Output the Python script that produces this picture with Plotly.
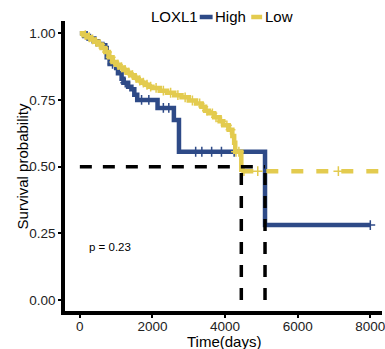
import numpy as np
import plotly.graph_objects as go

# ---- data ----
high_time = [0, 120, 250, 380, 500, 620, 700, 740, 820, 1000, 1050, 1150, 1200, 1330,
             1420, 1500, 1580, 2140, 2590, 2730, 5100, 8000]
high_surv = [1.0, 0.99, 0.98, 0.97, 0.96, 0.955, 0.945, 0.91, 0.885, 0.87, 0.85, 0.83,
             0.815, 0.80, 0.79, 0.77, 0.75, 0.72, 0.675, 0.556, 0.281, 0.281]
high_censor = [200, 450, 900, 1250, 1700, 1900, 2300, 2450, 3190, 3360, 3630, 3900, 4250, 8000]

low_time = [0, 100, 200, 300, 400, 500, 600, 700, 800, 900, 1000, 1100, 1200, 1300, 1400,
            1500, 1600, 1700, 1800, 1900, 2000, 2200, 2400, 2600, 2800, 3000, 3200, 3350,
            3450, 3550, 3700, 3850, 3950, 4100, 4200, 4250, 4280, 4447, 8700]
low_surv = [1.0, 0.993, 0.985, 0.977, 0.968, 0.958, 0.945, 0.93, 0.91, 0.892, 0.882, 0.872,
            0.862, 0.852, 0.843, 0.833, 0.823, 0.815, 0.807, 0.80, 0.795, 0.785, 0.777,
            0.768, 0.76, 0.748, 0.737, 0.725, 0.71, 0.70, 0.685, 0.67, 0.655, 0.638, 0.615,
            0.59, 0.556, 0.483, 0.483]
low_censor = [150, 260, 350, 450, 560, 650, 750, 850, 950, 1050, 1150, 1250, 1350, 1450,
              1550, 1650, 1750, 1850, 1950, 2100, 2300, 2500, 2700, 2900, 3100, 3300, 3400,
              3500, 3650, 3750, 3900, 4050, 4150, 4300, 4380, 4520, 4900, 7120]

group_title = "LOXL1"
group_names = ["High", "Low"]
p_text = "p = 0.23"
x_title = "Time(days)"
y_title = "Survival probability"

x_ticks = [0, 2000, 4000, 6000, 8000]
y_ticks = [0.0, 0.25, 0.5, 0.75, 1.0]

BLUE = "#2E4A87"
YELLOW = "#E3CB4F"
FONT = "Liberation Sans, Arial, sans-serif"


def step_at(times, surv, t):
    times = np.asarray(times)
    surv = np.asarray(surv)
    idx = np.searchsorted(times, t, side="right") - 1
    return surv[idx]


def median_time(times, surv):
    for t, s in zip(times, surv):
        if s <= 0.5:
            return t
    return None


fig = go.Figure()

# High curve
fig.add_trace(go.Scatter(x=high_time, y=high_surv, mode="lines", line_shape="hv",
                         line=dict(color=BLUE, width=4.5), showlegend=False))
fig.add_trace(go.Scatter(x=high_censor, y=step_at(high_time, high_surv, high_censor),
                         mode="markers",
                         marker=dict(symbol="cross-thin", size=7,
                                     line=dict(color=BLUE, width=1.5)),
                         showlegend=False))

# Low curve: solid while events occur, dashed tail
low_med = median_time(low_time, low_surv)
k = low_time.index(low_med)
fig.add_trace(go.Scatter(x=low_time[:k + 1], y=low_surv[:k + 1], mode="lines",
                         line_shape="hv", line=dict(color=YELLOW, width=4.5),
                         showlegend=False))
fig.add_trace(go.Scatter(x=low_time[k:], y=low_surv[k:], mode="lines",
                         line=dict(color=YELLOW, width=4.5, dash="12px,13px"),
                         showlegend=False))
fig.add_trace(go.Scatter(x=low_censor, y=step_at(low_time, low_surv, low_censor),
                         mode="markers",
                         marker=dict(symbol="cross-thin", size=7,
                                     line=dict(color=YELLOW, width=1.5)),
                         showlegend=False))

# median lines
high_med = median_time(high_time, high_surv)
meds = [low_med, high_med]
fig.add_trace(go.Scatter(x=[0, max(meds)], y=[0.5, 0.5], mode="lines",
                         line=dict(color="black", width=3.5, dash="12px,11px"),
                         showlegend=False))
for m in meds:
    fig.add_trace(go.Scatter(x=[m, m], y=[0, 0.5], mode="lines",
                             line=dict(color="black", width=3.5, dash="12px,11px"),
                             showlegend=False))

W, H = 385, 349
L, R, T, B = 65, 0, 21, 38
pw, ph = W - L - R, H - T - B


def px_x(px):
    return (px - L) / pw


def px_y(py):
    return (H - B - py) / ph


ann = [
    dict(x=191, y=0.2, xref="x", yref="y", text=p_text, showarrow=False,
         xanchor="left", yanchor="middle", font=dict(size=11.5, color="black", family=FONT)),
    dict(x=px_x(150), y=px_y(17), xref="paper", yref="paper", text=group_title,
         showarrow=False, xanchor="left", yanchor="middle",
         font=dict(size=15, color="black", family=FONT)),
    dict(x=px_x(214), y=px_y(17), xref="paper", yref="paper", text=group_names[0],
         showarrow=False, xanchor="left", yanchor="middle",
         font=dict(size=15, color="black", family=FONT)),
    dict(x=px_x(265), y=px_y(17), xref="paper", yref="paper", text=group_names[1],
         showarrow=False, xanchor="left", yanchor="middle",
         font=dict(size=15, color="black", family=FONT)),
    dict(x=px_x(226), y=px_y(341), xref="paper", yref="paper", text=x_title,
         showarrow=False, xanchor="center", yanchor="middle",
         font=dict(size=15, color="black", family=FONT)),
    dict(x=px_x(22), y=px_y(166), xref="paper", yref="paper", text=y_title,
         showarrow=False, xanchor="center", yanchor="middle", textangle=-90,
         font=dict(size=15, color="black", family=FONT)),
]
shapes = [
    dict(type="line", xref="paper", yref="paper", x0=px_x(201), x1=px_x(214),
         y0=px_y(17), y1=px_y(17), line=dict(color=BLUE, width=4.5)),
    dict(type="line", xref="paper", yref="paper", x0=px_x(253), x1=px_x(264),
         y0=px_y(17), y1=px_y(17), line=dict(color=YELLOW, width=4.5)),
]

fig.update_layout(
    width=W, height=H,
    margin=dict(l=L, r=R, t=T, b=B, pad=0),
    plot_bgcolor="white", paper_bgcolor="white",
    font=dict(family=FONT, color="black"),
    annotations=ann, shapes=shapes,
    showlegend=False,
)
fig.update_xaxes(range=[-409, 8322], tickvals=x_ticks,
                 ticktext=[str(v) for v in x_ticks],
                 ticklabeloverflow="allow", ticklabelstandoff=-3,
                 showgrid=False, zeroline=False, showline=True, linecolor="black",
                 linewidth=3.5, ticks="outside", ticklen=3, tickwidth=2, tickcolor="black",
                 tickfont=dict(size=13.5, color="#222", family=FONT))
fig.update_yaxes(range=[-0.041, 1.046], tickvals=y_ticks,
                 ticktext=[f"{v:.2f}" for v in y_ticks],
                 showgrid=False, zeroline=False, showline=True, linecolor="black",
                 linewidth=3.5, ticks="outside", ticklen=3, tickwidth=2, tickcolor="black",
                 tickfont=dict(size=13.5, color="#222", family=FONT))

fig.write_html("out.html")
